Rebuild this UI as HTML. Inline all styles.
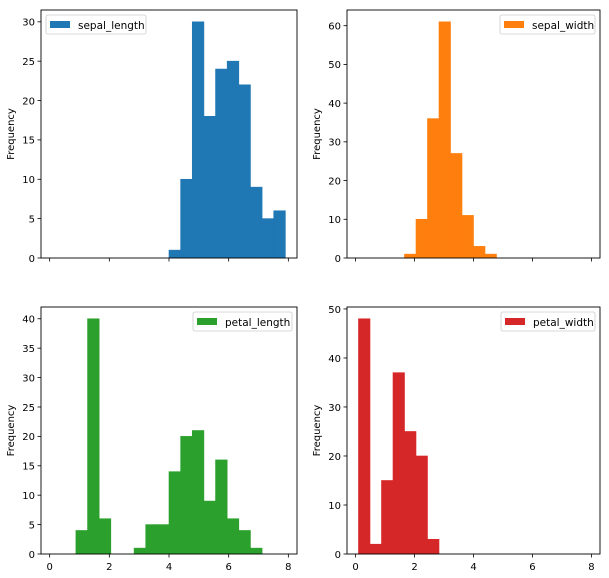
<!DOCTYPE html>
<html><head><meta charset="utf-8">
<style>
html,body{margin:0;padding:0;background:#fff;}
svg{display:block;font-family:"DejaVu Sans","Liberation Sans",sans-serif;}
</style></head>
<body>
<svg id="fig" width="609" height="578" xmlns="http://www.w3.org/2000/svg"></svg>
<script>
const binEdges = [0.1,0.49,0.88,1.27,1.66,2.05,2.44,2.83,3.22,3.61,4.0,4.39,4.78,5.17,5.56,5.95,6.34,6.73,7.12,7.51,7.9];
const sepalLengthCounts = [0,0,0,0,0,0,0,0,0,0,1,10,30,18,24,25,22,9,5,6];
const sepalWidthCounts = [0,0,0,0,1,10,36,61,27,11,3,1,0,0,0,0,0,0,0,0];
const petalLengthCounts = [0,0,4,40,6,0,0,1,5,5,14,20,21,9,16,6,4,1,0,0];
const petalWidthCounts = [48,2,15,37,25,20,3,0,0,0,0,0,0,0,0,0,0,0,0,0];
const xTicks = [0,2,4,6,8];
const yTicksSL = [0,5,10,15,20,25,30];
const yTicksSW = [0,10,20,30,40,50,60];
const yTicksPL = [0,5,10,15,20,25,30,35,40];
const yTicksPW = [0,10,20,30,40,50];
const seriesNames = ["sepal_length","sepal_width","petal_length","petal_width"];

const NS="http://www.w3.org/2000/svg";
const fig=document.getElementById('fig');
function mk(tag,attrs,parent){const e=document.createElementNS(NS,tag);for(const k in attrs)e.setAttribute(k,attrs[k]);(parent||fig).appendChild(e);return e;}

const panels=[
 {name:seriesNames[0],counts:sepalLengthCounts,yt:yTicksSL,color:"#1f77b4",x0:41,x1:297,y0:10,y1:258,legLeft:true,xlabels:false},
 {name:seriesNames[1],counts:sepalWidthCounts,yt:yTicksSW,color:"#ff7f0e",x0:347,x1:600,y0:10,y1:258,legLeft:false,xlabels:false},
 {name:seriesNames[2],counts:petalLengthCounts,yt:yTicksPL,color:"#2ca02c",x0:41,x1:297,y0:307,y1:554,legLeft:false,xlabels:true},
 {name:seriesNames[3],counts:petalWidthCounts,yt:yTicksPW,color:"#d62728",x0:347,x1:600,y0:307,y1:554,legLeft:false,xlabels:true}
];

panels.forEach(p=>{
  const g=mk('g',{});
  
  
  const xmin=binEdges[0]-0.05*(binEdges[binEdges.length-1]-binEdges[0]);
  const xmax=binEdges[binEdges.length-1]+0.05*(binEdges[binEdges.length-1]-binEdges[0]);
  const ymax=Math.max(...p.counts)*1.05;
  const sx=v=>p.x0+(v-xmin)/(xmax-xmin)*(p.x1-p.x0);
  const sy=v=>p.y1-v/ymax*(p.y1-p.y0);
  p.counts.forEach((c,i)=>{
    if(c<=0)return;
    const r=mk('rect',{x:sx(binEdges[i]),y:sy(c),width:sx(binEdges[i+1])-sx(binEdges[i]),height:sy(0)-sy(c),fill:p.color,stroke:p.color,'stroke-width':0.6},g);
    
    
  });
  const frame=mk('rect',{x:p.x0,y:p.y0,width:p.x1-p.x0,height:p.y1-p.y0,fill:'none',stroke:'#000','stroke-width':0.9},g);
  
  
  p.yt.forEach(t=>{
    const y=sy(t);
    mk('line',{x1:p.x0-3.5,x2:p.x0,y1:y,y2:y,stroke:'#000','stroke-width':0.8},g);
    const tx=mk('text',{x:p.x0-6,y:y+3.8,'font-size':10,'text-anchor':'end',fill:'#000'},g);
    tx.textContent=t;
    
    
  });
  xTicks.forEach(t=>{
    const x=sx(t);
    mk('line',{x1:x,x2:x,y1:p.y1,y2:p.y1+3.5,stroke:'#000','stroke-width':0.8},g);
    if(p.xlabels){
      const tx=mk('text',{x:x,y:p.y1+16,'font-size':10,'text-anchor':'middle',fill:'#000'},g);
      tx.textContent=t;
      
      
    }
  });
  const yl=mk('text',{x:0,y:0,'font-size':10,'text-anchor':'middle',fill:'#000',transform:`translate(${p.x0-27},${(p.y0+p.y1)/2}) rotate(-90)`},g);
  yl.textContent='Frequency';
  
  
  const w=p.name==='sepal_length'?100:(p.name==='sepal_width'?95:(p.name==='petal_length'?99:94));
  const lx=p.legLeft?p.x0+5:p.x1-5-w, ly=p.y0+5;
  const lg=mk('g',{},g);
  
  
  mk('rect',{x:lx,y:ly,width:w,height:19,rx:2,fill:'#fff',stroke:'#ccc','stroke-width':0.8},lg);
  mk('rect',{x:lx+4,y:ly+6,width:20,height:7,fill:p.color},lg);
  const lt=mk('text',{x:lx+32,y:ly+14,'font-size':10.5,fill:'#000'},lg);
  lt.textContent=p.name;
  
  
});
</script>
</body></html>
